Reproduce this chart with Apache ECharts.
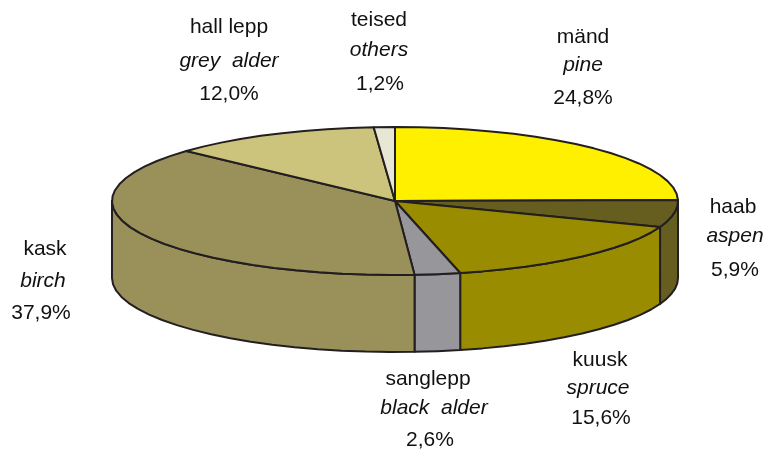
<!DOCTYPE html>
<html>
<head>
<meta charset="utf-8">
<style>
html,body{margin:0;padding:0;background:#fff;}
#main{width:768px;height:451px;}
</style>
<script src="https://cdn.jsdelivr.net/npm/echarts@6/dist/echarts.min.js"></script>
</head>
<body>
<div id="main"></div>
<script>
// data
var namesEt = ['mänd', 'haab', 'kuusk', 'sanglepp', 'kask', 'hall lepp', 'teised'];
var namesEn = ['pine', 'aspen', 'spruce', 'black  alder', 'birch', 'grey  alder', 'others'];
var shares = [24.8, 5.9, 15.6, 2.6, 37.9, 12.0, 1.2];

// styles
var sliceColors = ['#fff000', '#665e1f', '#998c00', '#96969b', '#99905a', '#ccc47c', '#e8e6d4'];
var lineColor = '#231f20';
var labelFont = '21px "Liberation Sans", Arial, sans-serif';
var labelFontItalic = 'italic 21px "Liberation Sans", Arial, sans-serif';

// layout: centre of each label line [et, en, percent]
var labelPos = [
    [[583, 37], [583, 65], [583, 98]],
    [[733, 207], [735, 236], [735, 270]],
    [[600, 360], [598, 388], [601, 418]],
    [[428, 379], [434, 408], [430, 440]],
    [[45, 249], [43, 281], [41, 313]],
    [[229, 27], [229, 61], [229, 94]],
    [[379, 20], [379, 50], [380, 84]]
];
var cx = 395, cy = 201, rx = 283, ry = 74, depth = 77, stepDeg = 5;

var total = shares.reduce(function (a, b) { return a + b; }, 0);

// angle 0 = top of the ellipse, clockwise
function rimPoint(deg, dy) {
    var r = deg * Math.PI / 180;
    return [cx + rx * Math.sin(r), cy - ry * Math.cos(r) + (dy || 0)];
}
function arcPoints(from, to, dy) {
    var pts = [];
    var n = Math.max(1, Math.ceil((to - from) / stepDeg));
    for (var i = 0; i <= n; i++) {
        pts.push(rimPoint(from + (to - from) * i / n, dy));
    }
    return pts;
}
function startAngle(idx) {
    var sum = 0;
    for (var i = 0; i < idx; i++) sum += shares[i];
    return sum / total * 360;
}

function renderSlice(params, api) {
    var idx = params.dataIndex;
    var value = api.value(1);
    var from = startAngle(idx);
    var to = from + value / total * 360;
    var sliceStyle = { fill: sliceColors[idx], stroke: lineColor, lineWidth: 2, lineJoin: 'round' };
    var children = [];

    // outer wall, only the front half shows
    var wallFrom = Math.max(from, 90);
    var wallTo = Math.min(to, 270);
    if (wallTo > wallFrom) {
        var wall = arcPoints(wallFrom, wallTo, 0).concat(arcPoints(wallFrom, wallTo, depth).reverse());
        children.push({ type: 'polygon', shape: { points: wall }, style: sliceStyle });
    }

    // top face
    var top = [[cx, cy]].concat(arcPoints(from, to, 0));
    children.push({ type: 'polygon', shape: { points: top }, style: sliceStyle });

    // labels
    var pos = labelPos[idx];
    var lines = [namesEt[idx], namesEn[idx], value.toFixed(1).replace('.', ',') + '%'];
    lines.forEach(function (line, i) {
        children.push({
            type: 'text',
            z2: 10,
            style: {
                x: pos[i][0],
                y: pos[i][1],
                text: line,
                fill: '#111',
                font: i === 1 ? labelFontItalic : labelFont,
                align: 'center',
                verticalAlign: 'middle'
            }
        });
    });
    return { type: 'group', children: children };
}

var myChart = echarts.init(document.getElementById('main'), null, { renderer: 'canvas' });
myChart.setOption({
    backgroundColor: '#fff',
    animation: false,
    series: [{
        type: 'custom',
        coordinateSystem: 'none',
        silent: true,
        renderItem: renderSlice,
        data: shares.map(function (v, i) { return [i, v]; })
    }]
});
</script>
</body>
</html>
